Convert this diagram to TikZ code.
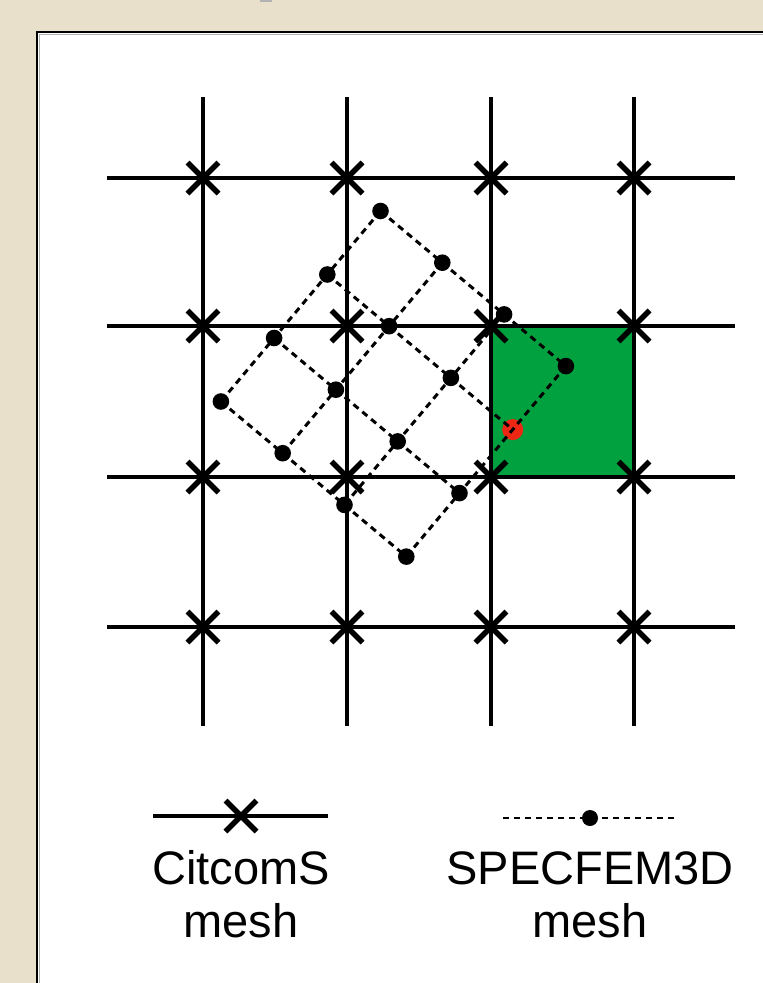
\documentclass[tikz,border=0pt]{standalone}
\usepackage{fontspec}
\setmainfont{Liberation Sans}
\definecolor{bgbeige}{RGB}{232,224,203}
\definecolor{meshgreen}{RGB}{0,161,62}
\definecolor{reddot}{RGB}{238,38,20}
\begin{document}
\begin{tikzpicture}[x=1pt,y=-1pt,
  gridline/.style={line width=3.2pt},
  crossline/.style={line width=5.5pt},
  meshdash/.style={line width=3pt, dash pattern=on 6.5pt off 5pt},
  legdash/.style={line width=2.4pt, dash pattern=on 6pt off 5pt},
  lbl/.style={anchor=base, inner sep=0pt, font=\fontsize{47}{56}\selectfont}]
\useasboundingbox (0,0) rectangle (763,983);
\fill[bgbeige] (0,0) rectangle (763,983);
\fill[gray!60] (260,0) rectangle (272,2);
% white panel
\fill[white] (37,32) rectangle (780,1000);
\draw[gray!60,line width=1pt] (780,34.5) -- (39.5,34.5) -- (39.5,1000);
\draw[line width=2.5pt] (780,32) -- (37,32) -- (37,1000);
% green cell
\fill[meshgreen] (491,326) rectangle (634,477);
% CitcomS grid
\foreach \x [count=\i] in {203,347,491,634} {
  \coordinate (vt\i) at (\x,97);
  \coordinate (vb\i) at (\x,726);
  \draw[gridline] (vt\i) -- (vb\i);
}
\foreach \y [count=\j] in {178,326,477,627} {
  \coordinate (hl\j) at (107,\y);
  \coordinate (hr\j) at (735,\y);
  \draw[gridline] (hl\j) -- (hr\j);
}
\foreach \x [count=\i] in {203,347,491,634} {
  \foreach \y [count=\j] in {178,326,477,627} {
    \coordinate (c\i\j) at (\x,\y);
    \draw[crossline] ([shift={(-15.5,-15.5)}]c\i\j) -- ([shift={(15.5,15.5)}]c\i\j);
    \draw[crossline] ([shift={(-15.5,15.5)}]c\i\j) -- ([shift={(15.5,-15.5)}]c\i\j);
  }
}
% SPECFEM3D mesh points
\foreach \i in {0,...,3} {
  \foreach \j in {0,...,3} {
    \coordinate (p\i\j) at ({380.5+\i*61.8-\j*53.2},{211+\i*51.7+\j*63.5});
  }
}
\fill[reddot] (p31) circle (10.5);
\foreach \k in {0,...,3} {
  \draw[meshdash] (p\k0) -- (p\k3);
  \draw[meshdash] (p0\k) -- (p3\k);
}
\foreach \i in {0,...,3} {
  \foreach \j in {0,...,3} {
    \ifnum\i\j=31 \else \fill (p\i\j) circle (8.3); \fi
  }
}
% legend
\coordinate (la) at (153,816);
\coordinate (lb) at (328,816);
\coordinate (lc) at (241,816);
\draw[gridline] (la) -- (lb);
\draw[crossline] ([shift={(-15.5,-15.5)}]lc) -- ([shift={(15.5,15.5)}]lc);
\draw[crossline] ([shift={(-15.5,15.5)}]lc) -- ([shift={(15.5,-15.5)}]lc);
\coordinate (ld) at (503,818);
\coordinate (le) at (676,818);
\coordinate (lf) at (590,818);
\draw[legdash] (ld) -- (le);
\fill (lf) circle (8);
\node[lbl] (t1) at (241,884) {CitcomS};
\node[lbl] (t2) at (241,937) {mesh};
\node[lbl] (t3) at (590,884) {SPECFEM3D};
\node[lbl] (t4) at (590,937) {mesh};
\end{tikzpicture}
\end{document}
